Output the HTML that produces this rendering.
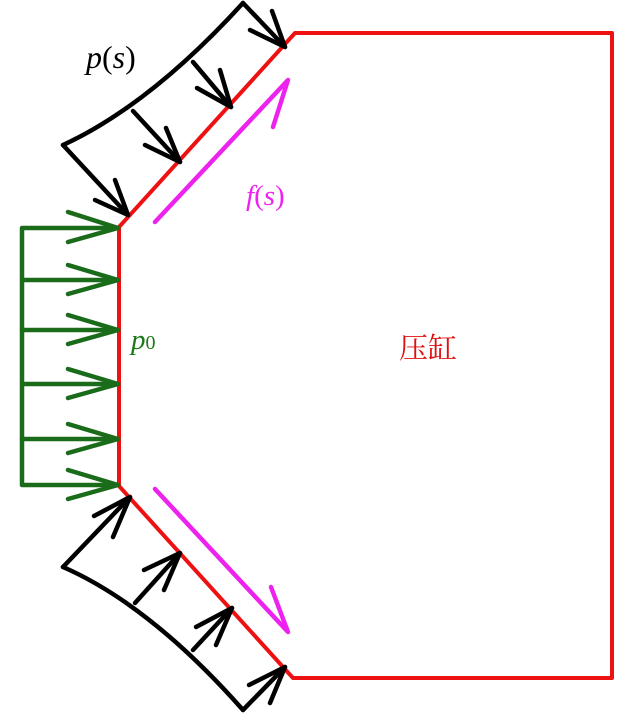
<!DOCTYPE html>
<html><head><meta charset="utf-8"><style>
html,body{margin:0;padding:0;background:#fff;}
svg{display:block;}
</style></head><body>
<svg width="623" height="719" viewBox="0 0 623 719" xmlns="http://www.w3.org/2000/svg">
<g fill="none" stroke-linecap="round" stroke-linejoin="round">
<path d="M295,33 L612,33 L612,678 L293,678 L119,486 L119,227 Z" stroke="#ee1111" stroke-width="4"/>
<g stroke="#1a6b1a" stroke-width="4.5">
<path d="M118,228 L22,228 L22,485 L118,485"/>
<path d="M22,280 L118,280 M22,330 L118,330 M22,384 L118,384 M22,439 L118,439"/>
<path d="M68,212 L118,228 L68,242 M68,265 L118,280 L68,294 M68,315 L118,330 L68,344 M68,369 L118,384 L68,398 M68,424 L118,439 L68,453 M68,470 L118,485 L68,499"/>
</g>
<g stroke="#000" stroke-width="4.5">
<path d="M63,145 Q150,105 243,3"/>
<path d="M63,145 L128,215 M133,111 L180,162 M193,62 L231,107 M243,3 L285,47"/>
<path d="M95,200 L128,215 L115,180 M145,145 L180,162 L166,128 M197,88 L231,107 L220,70 M250,30 L285,47 L272,11"/>
</g>
<g stroke="#000" stroke-width="4.5">
<path d="M63,567 Q150,605 243,710"/>
<path d="M63,567 L130,497 M135,603 L180,553 M193,650 L232,608 M243,710 L285,667"/>
<path d="M94,516 L130,497 L113,537 M144,570 L180,553 L164,590 M196,627 L232,608 L216,645 M249,685 L285,667 L270,703"/>
</g>
<g stroke="#ee22ee" stroke-width="4.5">
<path d="M155,222 L288,80 L273,127"/>
<path d="M155,489 L288,632 L271,587"/>
</g>
</g>
<text x="86" y="68" font-family="Liberation Serif, serif" font-style="italic" font-size="32" fill="#000">p<tspan font-style="normal">(</tspan>s<tspan font-style="normal">)</tspan></text>
<text x="246" y="205" font-family="Liberation Serif, serif" font-style="italic" font-size="29" fill="#ee22ee">f<tspan font-style="normal">(</tspan>s<tspan font-style="normal">)</tspan></text>
<text x="131" y="349" font-family="Liberation Serif, serif" font-style="italic" font-size="29" fill="#1a7a1a">p<tspan font-style="normal" font-size="20">0</tspan></text>
<text x="399" y="358" font-family="Liberation Serif, 'Noto Serif CJK SC', serif" font-size="29" fill="#e01010">压缸</text>
</svg>
</body></html>
